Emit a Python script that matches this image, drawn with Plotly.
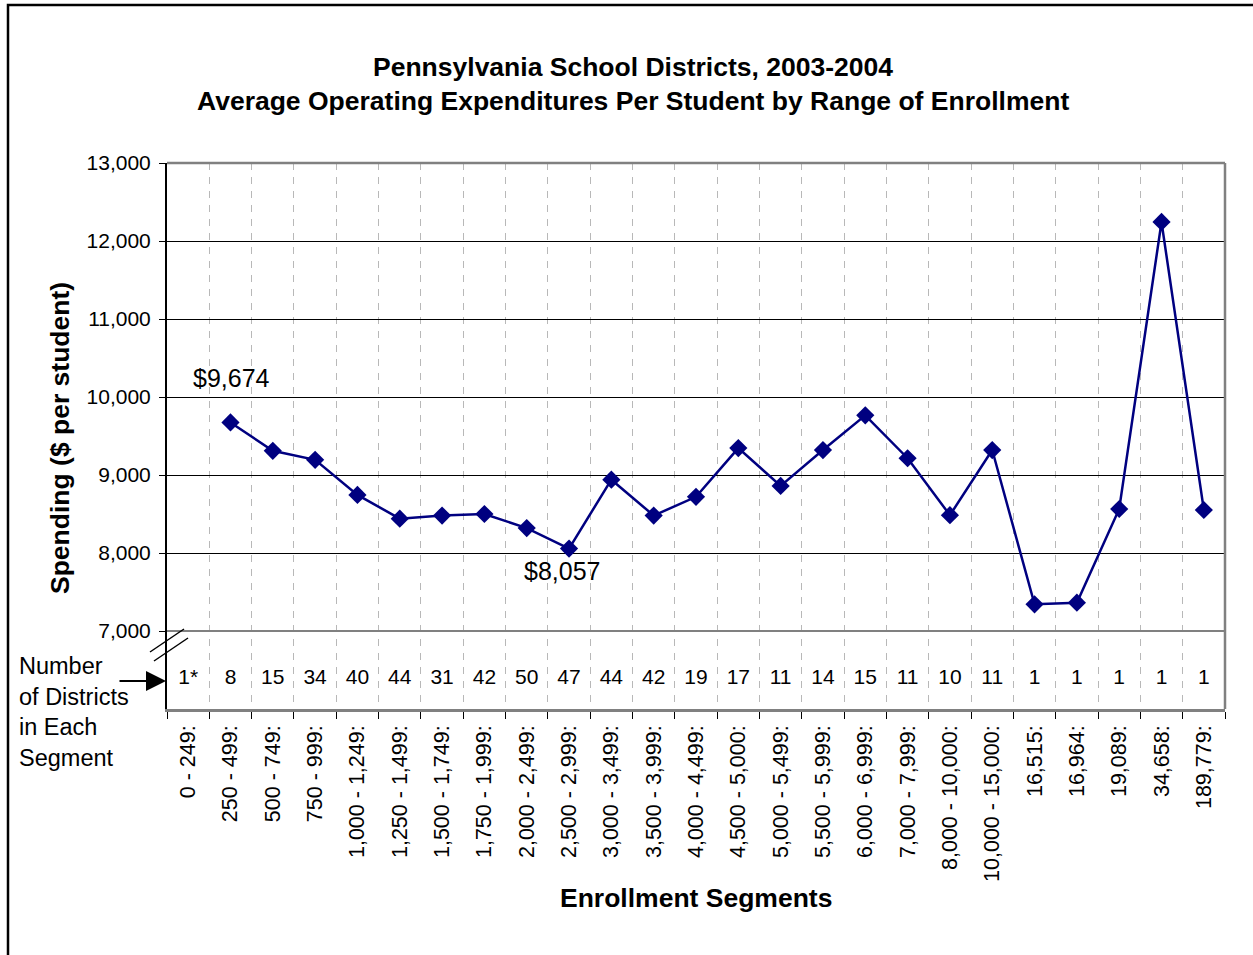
import plotly.graph_objects as go

# ---------------- data ----------------
segments = [
    "0 - 249:", "250 - 499:", "500 - 749:", "750 - 999:", "1,000 - 1,249:",
    "1,250 - 1,499:", "1,500 - 1,749:", "1,750 - 1,999:", "2,000 - 2,499:",
    "2,500 - 2,999:", "3,000 - 3,499:", "3,500 - 3,999:", "4,000 - 4,499:",
    "4,500 - 5,000:", "5,000 - 5,499:", "5,500 - 5,999:", "6,000 - 6,999:",
    "7,000 - 7,999:", "8,000 - 10,000:", "10,000 - 15,000:", "16,515:",
    "16,964:", "19,089:", "34,658:", "189,779:",
]
spending = [
    None, 9674, 9310, 9195, 8745, 8440, 8480, 8500, 8320, 8057,
    8940, 8480, 8720, 9345, 8860, 9320, 9765, 9215, 8485, 9320,
    7342, 7363, 8564, 12244, 8551,
]
district_counts = [
    "1*", "8", "15", "34", "40", "44", "31", "42", "50", "47", "44", "42",
    "19", "17", "11", "14", "15", "11", "10", "11", "1", "1", "1", "1", "1",
]
y_ticks = [7000, 8000, 9000, 10000, 11000, 12000, 13000]
y_tick_text = ["7,000", "8,000", "9,000", "10,000", "11,000", "12,000", "13,000"]
labelled_points = [1, 9]  # indices of the points with a value callout

# ---------------- layout constants ----------------
W, H = 1253, 955
L, R, T, B = 167, 28, 163, 246
PW, PH = W - L - R, H - T - B
FONT = "Liberation Sans, Arial, sans-serif"
NAVY = "#000080"
GREY = "#808080"
COUNT_ROW_Y = 6385


def px(x):
    return (x - L) / PW


def py(y):
    return (H - B - y) / PH


fig = go.Figure()

fig.add_trace(go.Scatter(
    x=segments, y=spending, mode="lines+markers",
    line=dict(color=NAVY, width=2.5),
    marker=dict(symbol="diamond", size=14, color=NAVY),
    connectgaps=False, showlegend=False, cliponaxis=False,
))

fig.add_trace(go.Scatter(
    x=segments, y=[COUNT_ROW_Y] * len(segments), mode="text",
    text=district_counts, textposition="middle center",
    textfont=dict(size=21, color="black", family=FONT),
    showlegend=False, hoverinfo="skip",
))

annotations = []
# value callouts
offsets = {1: (1, 44), 9: (-7, -22)}
for i in labelled_points:
    dx, dy = offsets[i]
    annotations.append(dict(
        x=segments[i], y=spending[i], xref="x", yref="y",
        text=f"${spending[i]:,.0f}", showarrow=False,
        xshift=dx, yshift=dy, xanchor="center", yanchor="middle",
        font=dict(size=25, color="black", family=FONT),
    ))


def label(x, y, text, size, **kw):
    d = dict(x=px(x), y=py(y), xref="paper", yref="paper", showarrow=False,
             text=text, xanchor="center", yanchor="middle",
             font=dict(size=size, color="black", family=FONT))
    d.update(kw)
    return d


annotations += [
    label(633, 67, "<b>Pennsylvania School Districts, 2003-2004</b>", 26.5),
    label(633, 101, "<b>Average Operating Expenditures Per Student by Range of Enrollment</b>", 26.5),
    label(60, 438, "<b>Spending ($ per student)</b>", 26.5, textangle=-90),
    label(696, 898, "<b>Enrollment Segments</b>", 26.5),
    label(17, 712, "Number<br>of Districts<br>in Each<br>Segment", 23.5,
          xanchor="left", align="left"),
    # arrow pointing at the count row
    dict(x=px(166), y=py(681), xref="paper", yref="paper", text="",
         showarrow=True, arrowhead=2, arrowsize=2.0, arrowwidth=2,
         arrowcolor="black", ax=-48, ay=0, axref="pixel", ayref="pixel",
         standoff=0, startstandoff=0),
]

shapes = [
    # outer frame
    dict(type="rect", xref="paper", yref="paper",
         x0=px(8), x1=px(1300), y0=py(1000), y1=py(5),
         line=dict(color="black", width=2.5), fillcolor="rgba(0,0,0,0)"),
    # 7,000 base line of the spending area
    dict(type="line", xref="paper", yref="y", x0=0, x1=1, y0=7000, y1=7000,
         line=dict(color=GREY, width=2)),
    # top and right border of the plot area
    dict(type="line", xref="paper", yref="paper", x0=0, x1=1, y0=1, y1=1,
         line=dict(color=GREY, width=2.5)),
    dict(type="line", xref="paper", yref="paper", x0=1, x1=1, y0=0, y1=1,
         line=dict(color=GREY, width=2.5)),
    # axis break marks
    dict(type="line", xref="paper", yref="paper",
         x0=px(150), y0=py(652), x1=px(184), y1=py(629),
         line=dict(color="black", width=1.5)),
    dict(type="line", xref="paper", yref="paper",
         x0=px(154), y0=py(661), x1=px(188), y1=py(638),
         line=dict(color="black", width=1.5)),
]

fig.update_layout(
    width=W, height=H,
    margin=dict(l=L, r=R, t=T, b=B, autoexpand=False),
    paper_bgcolor="white", plot_bgcolor="white",
    font=dict(family=FONT, color="black"),
    annotations=annotations, shapes=shapes,
    showlegend=False,
)

fig.update_xaxes(
    type="category", categoryorder="array", categoryarray=segments,
    range=[-0.5, len(segments) - 0.5],
    tickson="boundaries", ticks="outside", ticklen=7, tickcolor="black",
    tickwidth=1, ticklabelstandoff=5,
    showgrid=True, gridcolor="#b8b8b8", gridwidth=1, griddash="7px,7px",
    tickangle=-90, tickfont=dict(size=21.5, family=FONT, color="black"),
    showline=True, linecolor=GREY, linewidth=2.5,
    zeroline=False, automargin=False,
)

fig.update_yaxes(
    range=[6000, 13000], tickmode="array", tickvals=y_ticks, ticktext=y_tick_text,
    ticks="outside", ticklen=6, tickcolor="black", tickwidth=1,
    ticklabelstandoff=4,
    showgrid=True, gridcolor="black", gridwidth=1,
    showline=True, linecolor="black", linewidth=2,
    zeroline=False, tickfont=dict(size=21, family=FONT, color="black"),
    automargin=False,
)

fig.write_html("out.html")
